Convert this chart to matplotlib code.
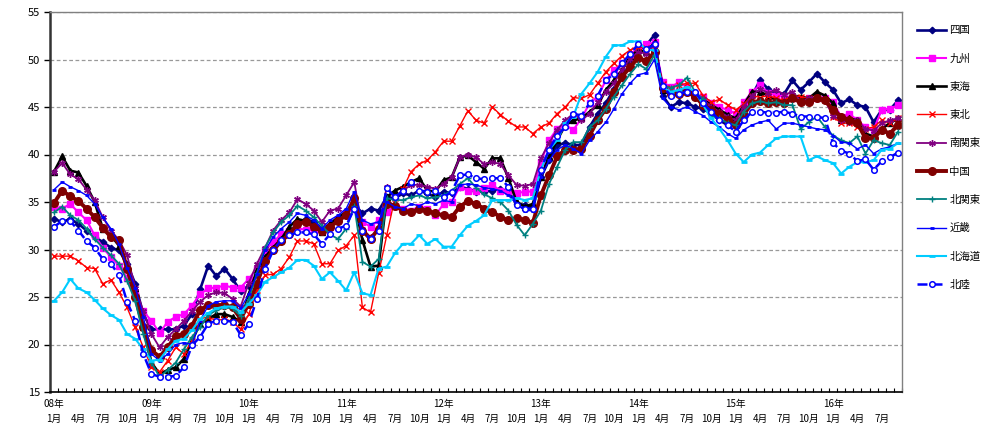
import numpy as np
import matplotlib
matplotlib.use("Agg")
import matplotlib.pyplot as plt  # noqa: E402
from matplotlib.transforms import blended_transform_factory

plt.rcParams["font.family"] = ["Noto Sans CJK JP", "DejaVu Sans"]

# monthly index values, Jan 2008 .. Sep 2016 (105 points)
YEARS = ["08年", "09年", "10年", "11年", "12年", "13年", "14年", "15年", "16年"]
MONTHS = ["1月", "4月", "7月", "10月"]

shikoku = [33.2, 32.9, 33.2, 32.7, 32.0, 31.3, 30.8, 30.2, 29.9, 28.5, 26.4, 23.2,
           21.6, 21.6, 21.6, 21.6, 22.0, 23.2, 25.8, 28.3, 27.2, 28.0, 26.9, 25.6,
           26.2, 27.3, 29.0, 30.2, 31.0, 31.8, 32.8, 33.2, 32.9, 32.2, 32.6, 33.2,
           34.1, 34.8, 33.8, 34.3, 34.1, 35.5, 35.4, 35.9, 35.7, 36.2, 35.9, 35.5,
           36.1, 35.9, 36.6, 36.4, 36.1, 36.1, 36.2, 36.4, 36.1, 34.8, 34.7, 34.3,
           37.6, 39.4, 41.0, 41.2, 41.0, 41.0, 42.9, 44.3, 45.4, 46.9, 48.2, 49.6,
           51.0, 51.5, 52.6, 46.2, 45.0, 45.5, 45.4, 45.0, 44.8, 44.3, 43.6, 43.1,
           43.6, 45.0, 46.2, 47.8, 46.9, 46.4, 46.4, 47.8, 46.8, 47.6, 48.5, 47.6,
           46.8, 45.4, 45.8, 45.2, 45.0, 43.4, 44.7, 44.7, 45.7]
kyushu = [34.5, 34.3, 34.8, 33.9, 33.1, 31.5, 30.2, 29.2, 28.3, 27.0, 25.2, 23.5,
          22.5, 21.2, 22.4, 22.9, 23.2, 24.1, 25.3, 25.9, 26.0, 26.2, 26.0, 26.0,
          26.9, 28.0, 29.9, 30.8, 31.6, 32.0, 32.2, 32.1, 32.0, 32.0, 32.4, 33.2,
          33.8, 34.3, 32.9, 32.4, 33.1, 33.9, 34.6, 34.3, 34.1, 34.5, 34.3, 33.6,
          34.8, 35.0, 36.6, 36.2, 36.2, 36.5, 36.8, 36.2, 36.2, 35.9, 36.1, 36.1,
          39.2, 41.5, 42.7, 43.1, 42.6, 43.8, 45.4, 46.1, 47.8, 48.9, 49.6, 50.5,
          51.3, 51.6, 51.8, 47.6, 47.1, 47.6, 47.1, 46.2, 46.1, 45.4, 45.0, 44.7,
          44.3, 45.5, 46.6, 47.3, 46.5, 46.2, 46.1, 45.9, 45.7, 45.9, 45.9, 45.9,
          45.5, 44.0, 44.3, 43.6, 42.9, 42.6, 44.7, 44.8, 45.2]
tokai = [38.2, 39.8, 38.3, 38.1, 36.7, 35.0, 32.2, 31.5, 30.4, 28.1, 26.0, 21.8,
         18.1, 16.9, 17.3, 17.6, 18.5, 20.4, 22.2, 22.7, 23.2, 23.2, 22.9, 22.4,
         25.3, 27.8, 29.2, 30.2, 31.1, 32.4, 33.2, 33.0, 32.5, 31.8, 32.7, 33.4,
         33.9, 35.0, 31.0, 28.2, 28.3, 35.5, 36.2, 36.6, 37.1, 37.5, 36.2, 36.1,
         37.3, 37.6, 39.7, 39.9, 39.2, 38.5, 39.6, 39.6, 37.5, 35.0, 34.5, 34.8,
         37.6, 39.8, 41.5, 43.1, 43.6, 43.8, 44.5, 45.2, 46.8, 47.8, 48.9, 50.3,
         51.0, 50.8, 51.8, 46.8, 46.4, 46.6, 46.8, 46.4, 45.8, 45.2, 44.7, 44.2,
         43.8, 45.2, 46.6, 46.6, 46.2, 45.7, 45.5, 46.2, 46.1, 45.9, 46.6, 46.2,
         45.4, 43.6, 43.8, 43.6, 42.2, 41.9, 42.7, 43.3, 43.8]
tohoku = [29.3, 29.3, 29.3, 28.8, 28.1, 28.0, 26.4, 26.8, 25.5, 23.9, 21.8, 19.7,
          17.6, 17.1, 18.3, 19.7, 19.0, 20.4, 22.7, 22.9, 22.5, 22.7, 22.4, 21.6,
          23.2, 25.7, 27.3, 27.4, 28.0, 29.2, 30.9, 30.9, 30.6, 28.5, 28.5, 29.9,
          30.4, 31.5, 23.9, 23.4, 27.5, 31.5, 35.4, 36.4, 38.2, 39.0, 39.4, 40.3,
          41.4, 41.4, 43.0, 44.6, 43.6, 43.3, 45.0, 44.2, 43.5, 42.9, 42.9, 42.2,
          42.9, 43.3, 44.3, 45.0, 46.0, 45.9, 46.3, 47.5, 48.7, 49.6, 50.4, 51.0,
          51.3, 51.2, 51.3, 47.4, 47.0, 47.3, 47.5, 47.5, 46.2, 45.5, 45.8, 45.2,
          44.7, 45.3, 46.2, 46.0, 46.2, 45.9, 45.7, 46.2, 46.1, 45.9, 45.9, 45.7,
          44.0, 43.3, 43.3, 42.9, 42.7, 42.9, 43.6, 43.3, 43.8]
minami_kanto = [38.2, 39.1, 37.9, 37.4, 36.3, 35.2, 33.4, 32.0, 31.0, 29.4, 26.0, 23.5,
                21.1, 19.7, 20.8, 21.6, 22.5, 23.5, 24.5, 25.2, 25.5, 25.4, 24.8, 24.0,
                26.5, 28.5, 30.2, 32.0, 33.1, 33.9, 35.3, 34.8, 34.1, 32.9, 34.1, 34.3,
                35.7, 37.1, 32.2, 31.3, 32.2, 36.6, 35.4, 36.2, 36.8, 36.8, 36.6, 36.4,
                36.9, 37.6, 39.7, 40.0, 39.7, 39.0, 39.2, 39.0, 37.8, 36.8, 36.7, 36.9,
                39.6, 41.2, 42.6, 43.6, 44.3, 43.6, 44.3, 45.5, 46.6, 47.5, 48.9, 50.1,
                50.8, 50.6, 51.5, 47.0, 46.5, 46.8, 46.9, 46.4, 45.8, 45.0, 44.5, 44.0,
                43.6, 45.0, 46.2, 46.9, 46.5, 46.8, 46.3, 46.6, 45.5, 45.9, 45.9, 45.7,
                44.1, 43.6, 43.4, 43.6, 42.7, 42.5, 43.3, 43.6, 43.8]
chugoku = [34.9, 36.2, 35.6, 35.1, 34.3, 33.4, 32.3, 31.3, 31.0, 28.0, 25.0, 21.8,
           19.4, 18.7, 19.7, 20.9, 21.1, 22.0, 23.6, 24.2, 24.1, 24.2, 23.9, 22.7,
           24.3, 26.4, 28.8, 29.9, 30.9, 31.6, 32.7, 32.9, 32.4, 32.0, 32.4, 33.0,
           33.6, 35.4, 32.0, 31.1, 32.2, 34.8, 34.6, 34.1, 33.9, 34.3, 34.1, 33.8,
           33.6, 33.4, 34.5, 35.1, 34.8, 34.3, 34.0, 33.4, 33.1, 33.3, 33.1, 32.8,
           35.7, 37.8, 39.8, 40.5, 40.5, 40.6, 42.0, 43.6, 44.8, 46.6, 48.2, 49.2,
           50.2, 49.8, 50.8, 47.0, 46.4, 46.4, 46.6, 46.1, 45.2, 44.7, 44.3, 43.6,
           43.1, 44.2, 45.4, 45.6, 45.4, 45.5, 45.4, 45.9, 45.5, 45.5, 45.9, 45.7,
           44.7, 44.0, 43.6, 43.3, 41.7, 41.7, 42.6, 42.2, 43.1]
kita_kanto = [33.9, 34.5, 33.6, 33.1, 32.2, 31.1, 30.2, 29.4, 28.5, 26.7, 24.6, 21.1,
              18.1, 16.6, 17.3, 18.1, 19.5, 20.8, 21.8, 23.1, 23.6, 23.9, 23.8, 23.0,
              24.8, 27.5, 30.2, 31.8, 32.9, 33.6, 34.6, 34.1, 33.4, 32.5, 31.6, 31.1,
              32.2, 34.6, 28.7, 28.2, 29.0, 35.4, 35.2, 35.2, 35.5, 35.7, 35.4, 35.5,
              35.7, 36.2, 36.9, 37.5, 36.5, 35.8, 35.4, 35.0, 34.1, 32.6, 31.5, 32.7,
              34.1, 36.9, 38.7, 40.5, 41.3, 41.3, 42.9, 43.6, 44.8, 46.1, 47.3, 48.5,
              49.5, 49.0, 50.5, 47.3, 47.0, 47.3, 48.1, 46.6, 45.8, 44.1, 43.8, 43.3,
              43.1, 44.5, 45.4, 45.6, 45.4, 45.5, 45.2, 45.2, 42.7, 43.4, 44.0, 42.9,
              42.0, 41.5, 41.2, 41.9, 40.1, 41.5, 41.2, 41.0, 42.4]
kinki = [36.3, 37.1, 36.6, 36.2, 35.7, 34.8, 33.4, 32.2, 30.6, 28.1, 26.0, 22.9,
         19.0, 18.3, 19.0, 20.0, 20.2, 20.0, 22.5, 24.1, 24.5, 24.6, 24.6, 23.8,
         25.3, 27.4, 29.9, 31.3, 32.2, 32.9, 33.8, 33.6, 33.1, 32.2, 33.1, 33.6,
         34.3, 36.1, 33.1, 32.7, 32.9, 35.0, 34.5, 34.3, 34.8, 34.6, 35.0, 34.8,
         35.2, 35.0, 36.8, 36.9, 36.8, 36.5, 36.4, 36.2, 35.7, 34.8, 34.1, 34.1,
         37.6, 39.4, 40.5, 41.0, 40.6, 40.1, 41.5, 42.4, 43.4, 44.8, 46.4, 47.5,
         48.4, 48.6, 50.0, 45.9, 45.0, 44.7, 45.0, 44.5, 44.1, 43.4, 42.9, 42.2,
         41.7, 42.6, 43.1, 43.4, 43.6, 42.7, 43.3, 43.3, 43.1, 42.9, 42.7, 42.6,
         42.0, 41.3, 41.2, 40.6, 41.0, 40.1, 40.6, 40.8, 41.2]
hokkaido = [24.6, 25.5, 26.9, 25.9, 25.5, 24.7, 23.8, 23.1, 22.6, 21.1, 20.6, 19.5,
            18.3, 18.4, 19.5, 20.4, 20.6, 21.5, 22.7, 23.3, 23.8, 24.0, 24.0, 23.4,
            24.3, 25.2, 26.6, 27.1, 27.6, 28.1, 28.9, 28.9, 28.3, 26.9, 27.6, 26.7,
            25.7, 27.6, 25.4, 25.2, 28.0, 28.2, 29.6, 30.6, 30.6, 31.5, 30.6, 31.1,
            30.3, 30.3, 31.5, 32.5, 33.0, 33.6, 35.2, 35.2, 35.2, 35.4, 35.2, 35.4,
            38.4, 40.5, 41.5, 43.3, 44.0, 46.4, 47.5, 48.7, 50.3, 51.5, 51.5, 51.9,
            51.9, 51.0, 51.0, 47.1, 46.6, 46.8, 47.1, 46.6, 45.2, 43.8, 42.7, 41.5,
            40.1, 39.2, 40.0, 40.2, 41.0, 41.7, 41.9, 41.9, 41.9, 39.4, 39.8, 39.4,
            39.1, 38.0, 38.7, 39.2, 39.2, 39.4, 40.5, 40.6, 41.2]
hokuriku = [32.4, 33.0, 33.0, 32.0, 30.9, 30.2, 29.0, 28.5, 27.3, 24.5, 22.5, 19.0,
            16.9, 16.6, 16.6, 16.7, 17.6, 19.9, 20.8, 22.2, 22.5, 22.5, 22.4, 21.0,
            22.2, 24.8, 28.0, 29.9, 31.0, 31.5, 31.8, 31.8, 31.6, 30.6, 31.6, 32.2,
            32.5, 34.3, 32.0, 31.1, 32.0, 36.5, 35.5, 36.2, 37.1, 36.2, 36.1, 36.2,
            35.5, 36.1, 37.8, 37.9, 37.5, 37.4, 37.5, 37.5, 36.6, 34.7, 34.3, 34.3,
            38.4, 40.5, 42.0, 42.9, 44.3, 44.1, 45.4, 46.2, 47.8, 48.5, 49.6, 50.6,
            51.6, 51.1, 51.6, 47.2, 46.2, 46.4, 46.6, 46.6, 45.4, 44.5, 43.6, 43.1,
            42.4, 43.6, 44.5, 44.5, 44.4, 44.4, 44.5, 44.3, 44.0, 44.0, 44.0, 43.8,
            41.2, 40.4, 40.1, 39.3, 39.5, 38.4, 39.3, 39.7, 40.2]

series = [
    ("四国", shikoku, dict(color="#000080", marker="D", ms=3.3, lw=1.9)),
    ("九州", kyushu, dict(color="#FF00FF", marker="s", ms=5.0, lw=1.5)),
    ("東海", tokai, dict(color="black", marker="^", ms=4.5, lw=1.9)),
    ("東北", tohoku, dict(color="#FF0000", marker="x", ms=4.2, lw=1.0, mew=1.0)),
    ("南関東", minami_kanto, dict(color="#800080", marker=(6, 2, 0), ms=4.8, lw=1.3, mew=1.0)),
    ("中国", chugoku, dict(color="#800000", marker="o", ms=5.5, lw=2.8)),
    ("北関東", kita_kanto, dict(color="#008080", marker="+", ms=4.8, lw=1.3, mew=1.0)),
    ("近畿", kinki, dict(color="#0000FF", marker="_", ms=3.5, lw=1.0, mew=2.0)),
    ("北海道", hokkaido, dict(color="#00CCFF", marker="_", ms=5, lw=1.5, mew=2.0)),
    ("北陸", hokuriku, dict(color="#0000FF", marker="o", ms=4.0, lw=1.8, mfc="white",
                          mew=1.1, ls=(0, (4, 2)))),
]

fig = plt.figure(figsize=(9.95, 4.26), dpi=100)
ax = fig.add_axes([50 / 995, 1 - 392 / 426, 852 / 995, 380 / 426])

n = len(shikoku)
x = np.arange(n)
for name, vals, st in series:
    ax.plot(x, vals, label=name, **st)

ax.set_xlim(-0.5, n - 0.5)
ax.set_ylim(15, 55)
ax.set_yticks(np.arange(15, 56, 5))
ax.tick_params(axis="y", labelsize=8, length=4, width=1, direction="out", pad=3)
ax.yaxis.grid(True, color="#999999", ls=(0, (3, 2)), lw=0.9)
ax.set_axisbelow(True)

ax.set_xticks(np.arange(n + 1) - 0.5)
ax.set_xticklabels([])
ax.tick_params(axis="x", length=3, width=0.8, direction="in")

for s in ("top", "right"):
    ax.spines[s].set_color("#808080")
    ax.spines[s].set_linewidth(1.0)
ax.spines["left"].set_color("#333333")
ax.spines["left"].set_linewidth(1.8)
ax.spines["bottom"].set_linewidth(1.2)

tr = blended_transform_factory(ax.transData, ax.transAxes)
for k, yr in enumerate(YEARS):
    ax.text(k * 12, -0.032, yr, transform=tr, ha="center", va="center", fontsize=7)
for i in range(0, n, 3):
    ax.text(i, -0.072, MONTHS[(i % 12) // 3], transform=tr, ha="center", va="center",
            fontsize=7)

ax.legend(loc="upper left", bbox_to_anchor=(912 / 995, 1 - 20 / 426),
          bbox_transform=fig.transFigure, frameon=False, fontsize=7.5,
          handlelength=2.8, labelspacing=1.75, handletextpad=0.3, borderpad=0)

fig.savefig("out.png", dpi=100)
